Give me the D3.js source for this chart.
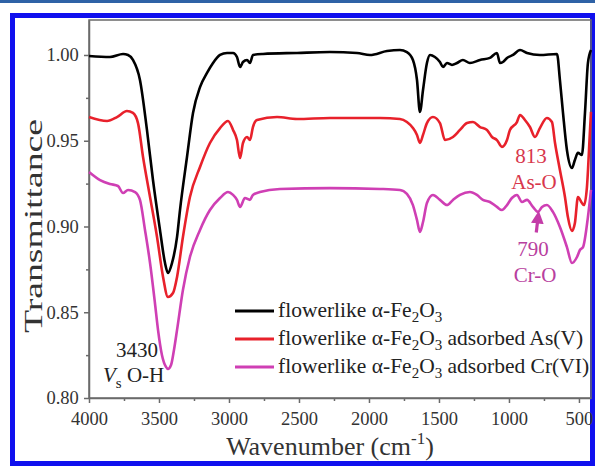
<!DOCTYPE html>
<html>
<head>
<meta charset="utf-8">
<script src="https://cdn.jsdelivr.net/npm/d3@7"></script>
<style>
  body { margin: 0; background: #fff; }
  svg text { font-family: "Liberation Serif", "Times New Roman", serif; }
</style>
</head>
<body>
<svg id="chart" width="595" height="466"></svg>
<script>
// tick labels
const xTicks = [4000, 3500, 3000, 2500, 2000, 1500, 1000, 500];
const xMinor = [3750, 3250, 2750, 2250, 1750, 1250, 750];
const yTicks = [0.80, 0.85, 0.90, 0.95, 1.00];
const yMinor = [0.825, 0.875, 0.925, 0.975];

// flowerlike a-Fe2O3
const blackWn = [4000, 3850, 3757, 3721, 3686, 3636, 3586, 3543, 3493, 3457, 3436, 3407, 3371, 3350, 3300, 3257, 3207, 3157, 3114, 3064, 3014, 2971, 2943, 2921, 2900, 2871, 2850, 2829, 2757, 2514, 2279, 2086, 1993, 1871, 1779, 1729, 1686, 1657, 1636, 1614, 1586, 1564, 1529, 1493, 1471, 1443, 1407, 1371, 1329, 1279, 1207, 1136, 1086, 1064, 1043, 1014, 971, 921, 871, 779, 657, 636, 614, 586, 550, 529, 507, 479, 457, 436, 414];
const blackT = [0.9994, 0.9988, 1.0006, 1.000, 0.9971, 0.9854, 0.9563, 0.9271, 0.8980, 0.8787, 0.8729, 0.8787, 0.8939, 0.9096, 0.9405, 0.9662, 0.9813, 0.9895, 0.9953, 1.000, 1.0012, 1.0012, 0.9988, 0.993, 0.9959, 0.9971, 0.9953, 1.000, 1.0006, 1.0012, 1.0017, 1.0012, 1.000, 1.0023, 1.0029, 1.0017, 0.9971, 0.9854, 0.9668, 0.9796, 0.9953, 1.000, 0.9988, 0.9959, 0.993, 0.9953, 0.9942, 0.9953, 0.9971, 0.9953, 0.9971, 0.9983, 1.0012, 0.9953, 0.9959, 0.9983, 1.000, 1.0029, 1.0012, 1.000, 1.0006, 0.9854, 0.9662, 0.9446, 0.9341, 0.9388, 0.9429, 0.9417, 0.9662, 0.9953, 1.0029];

// adsorbed As(V)
const redWn = [4000, 3871, 3800, 3729, 3686, 3650, 3614, 3564, 3514, 3471, 3436, 3400, 3371, 3329, 3279, 3207, 3136, 3064, 3007, 2971, 2943, 2921, 2900, 2871, 2850, 2829, 2800, 2657, 2514, 2279, 2043, 1921, 1779, 1729, 1686, 1657, 1636, 1614, 1586, 1543, 1493, 1457, 1400, 1350, 1300, 1257, 1207, 1157, 1121, 1086, 1050, 1014, 993, 943, 921, 886, 850, 814, 779, 729, 693, 671, 636, 600, 579, 550, 529, 507, 479, 464, 443, 421, 414];
const redT = [0.9638, 0.9615, 0.9638, 0.9673, 0.9662, 0.9603, 0.9405, 0.9172, 0.8939, 0.8706, 0.8589, 0.8612, 0.8706, 0.8939, 0.9172, 0.9347, 0.9487, 0.9574, 0.9615, 0.9563, 0.9504, 0.9399, 0.9487, 0.9522, 0.9504, 0.958, 0.9621, 0.9638, 0.9627, 0.9633, 0.9633, 0.9633, 0.9627, 0.9609, 0.9574, 0.9534, 0.9487, 0.9534, 0.9603, 0.9638, 0.9603, 0.9504, 0.9522, 0.9563, 0.9603, 0.9609, 0.958, 0.9563, 0.9522, 0.9504, 0.9464, 0.9504, 0.9563, 0.9609, 0.965, 0.9621, 0.958, 0.9522, 0.9574, 0.9633, 0.9609, 0.9487, 0.9329, 0.9172, 0.9055, 0.8974, 0.902, 0.9172, 0.9137, 0.9125, 0.923, 0.9563, 0.9668];

// adsorbed Cr(VI)
const pinkWn = [4000, 3921, 3850, 3793, 3757, 3721, 3671, 3636, 3600, 3564, 3529, 3507, 3479, 3450, 3436, 3414, 3393, 3371, 3329, 3279, 3207, 3136, 3064, 3007, 2971, 2943, 2921, 2886, 2850, 2829, 2779, 2636, 2279, 1921, 1779, 1729, 1686, 1657, 1636, 1614, 1586, 1543, 1493, 1443, 1400, 1350, 1279, 1229, 1186, 1136, 1086, 1050, 1014, 979, 943, 907, 871, 829, 793, 764, 729, 686, 636, 586, 550, 514, 493, 471, 436, 414];
const pinkT = [0.9318, 0.9271, 0.9248, 0.9236, 0.9195, 0.9213, 0.9201, 0.9155, 0.898, 0.8787, 0.8554, 0.8397, 0.8251, 0.8181, 0.8169, 0.8192, 0.828, 0.8397, 0.863, 0.8822, 0.898, 0.9096, 0.9166, 0.9201, 0.9184, 0.9155, 0.9114, 0.9166, 0.9155, 0.9184, 0.9201, 0.9219, 0.9224, 0.9219, 0.9213, 0.919, 0.9125, 0.9038, 0.8968, 0.9026, 0.9137, 0.9184, 0.9155, 0.9125, 0.9155, 0.9184, 0.9201, 0.9184, 0.9155, 0.9143, 0.9114, 0.9096, 0.9125, 0.9166, 0.9184, 0.9143, 0.9155, 0.9114, 0.9085, 0.9114, 0.9125, 0.9085, 0.8997, 0.888, 0.8787, 0.8822, 0.8863, 0.888, 0.9055, 0.9213];

const seriesNames = ["flowerlike", "flowerlike", "flowerlike"];
const seriesColors = ["#000000", "#e8212b", "#cf3fb4"];

const svg = d3.select("#chart");
const mLeft = 89, mRight = 591, mTop = 20, mBottom = 398;

// page decoration: thin rule on top and blue frame
svg.append("rect").attr("x", 0).attr("y", 0).attr("width", 595).attr("height", 3).attr("fill", "#2e62a6");
svg.append("rect").attr("x", 12.5).attr("y", 15.5).attr("width", 580).attr("height", 448)
  .attr("fill", "none").attr("stroke", "#1010ee").attr("stroke-width", 5);

const x = d3.scaleLinear().domain([4000, 414]).range([mLeft, mRight]);
const y = d3.scaleLinear().domain([0.80, 1.0204]).range([mBottom, mTop]);

// plot box
svg.append("rect").attr("x", mLeft).attr("y", mTop).attr("width", mRight - mLeft).attr("height", mBottom - mTop)
  .attr("fill", "none").attr("stroke", "#6a6a6a").attr("stroke-width", 1.5);

// x axis
const xAxis = svg.append("g").attr("transform", "translate(0," + mBottom + ")")
  .call(d3.axisBottom(x).tickValues(xTicks).tickSize(5).tickSizeOuter(0).tickFormat(d3.format("d")));
svg.append("g").attr("transform", "translate(0," + mBottom + ")")
  .call(d3.axisBottom(x).tickValues(xMinor).tickSize(3).tickSizeOuter(0).tickFormat(""))
  .select(".domain").remove();

// y axis
const yAxis = svg.append("g").attr("transform", "translate(" + mLeft + ",0)")
  .call(d3.axisLeft(y).tickValues(yTicks).tickSize(5).tickSizeOuter(0).tickFormat(d3.format(".2f")));
svg.append("g").attr("transform", "translate(" + mLeft + ",0)")
  .call(d3.axisLeft(y).tickValues(yMinor).tickSize(3).tickSizeOuter(0).tickFormat(""))
  .select(".domain").remove();

svg.selectAll(".domain, .tick line").attr("stroke", "#6a6a6a").attr("stroke-width", 1.5);
xAxis.selectAll("text").attr("font-size", 18.5).attr("fill", "#333").attr("dy", "1.05em");
yAxis.selectAll("text").attr("font-size", 18.5).attr("fill", "#333").attr("dx", "-0.12em");

// axis titles
const xt = svg.append("text").attr("x", 330).attr("y", 455).attr("text-anchor", "middle")
  .attr("font-size", 26).attr("fill", "#333");
xt.append("tspan").text("Wavenumber (cm");
xt.append("tspan").attr("font-size", 17).attr("dy", -11).text("-1");
xt.append("tspan").attr("dy", 11).text(")");

svg.append("text").attr("transform", "translate(42,226) rotate(-90)").attr("text-anchor", "middle")
  .attr("font-size", 25).attr("textLength", 214).attr("lengthAdjust", "spacingAndGlyphs")
  .attr("fill", "#333").text("Transmittance");

// spectra
const line = d3.line().x(d => x(d[0])).y(d => y(d[1])).curve(d3.curveMonotoneX);
const series = [
  [pinkWn, pinkT, seriesColors[2]],
  [redWn, redT, seriesColors[1]],
  [blackWn, blackT, seriesColors[0]]
];
series.forEach(s => {
  svg.append("path").datum(d3.zip(s[0], s[1]))
    .attr("fill", "none").attr("stroke", s[2]).attr("stroke-width", 2.6)
    .attr("stroke-linejoin", "round").attr("d", line);
});

// annotations
function label(txt, cx, by, color, size) {
  return svg.append("text").attr("x", cx).attr("y", by).attr("text-anchor", "middle")
    .attr("font-size", size).attr("fill", color).text(txt);
}
label("3430", 137, 357, "#222", 21);
const vs = svg.append("text").attr("x", 103).attr("y", 382).attr("font-size", 21).attr("fill", "#222");
vs.append("tspan").attr("font-style", "italic").text("V");
vs.append("tspan").attr("font-size", 15).attr("dy", 6).text("s");
vs.append("tspan").attr("dy", -6).text(" O-H");

label("813", 531, 163, "#d8374c", 21);
label("As-O", 534, 189, "#d8374c", 21);
label("790", 533, 256, "#b8409e", 21);
label("Cr-O", 535, 282, "#b8409e", 21);

// arrow to the 790 band
svg.append("defs").append("marker").attr("id", "head").attr("viewBox", "0 0 10 10")
  .attr("refX", 5).attr("refY", 5).attr("markerWidth", 4).attr("markerHeight", 4).attr("orient", "auto")
  .append("path").attr("d", "M0,0L10,5L0,10Z").attr("fill", "#c43ca8");
svg.append("line").attr("x1", x(805)).attr("y1", y(0.8965)).attr("x2", x(792)).attr("y2", y(0.9055))
  .attr("stroke", "#c43ca8").attr("stroke-width", 3.2).attr("marker-end", "url(#head)");

// legend
const legendY = [311, 339, 367];
const legendSuffix = ["", " adsorbed As(V)", " adsorbed Cr(VI)"];
legendY.forEach((ly, i) => {
  svg.append("line").attr("x1", 235).attr("x2", 274).attr("y1", ly).attr("y2", ly)
    .attr("stroke", seriesColors[i]).attr("stroke-width", 2.8);
  const t = svg.append("text").attr("x", 278).attr("y", ly + 6).attr("font-size", 21.5).attr("fill", "#222");
  t.append("tspan").text(seriesNames[i] + " \u03b1-Fe");
  t.append("tspan").attr("font-size", 15).attr("dy", 5).text("2");
  t.append("tspan").attr("dy", -5).text("O");
  t.append("tspan").attr("font-size", 15).attr("dy", 5).text("3");
  t.append("tspan").attr("dy", -5).text(legendSuffix[i]);
});
</script>
</body>
</html>
